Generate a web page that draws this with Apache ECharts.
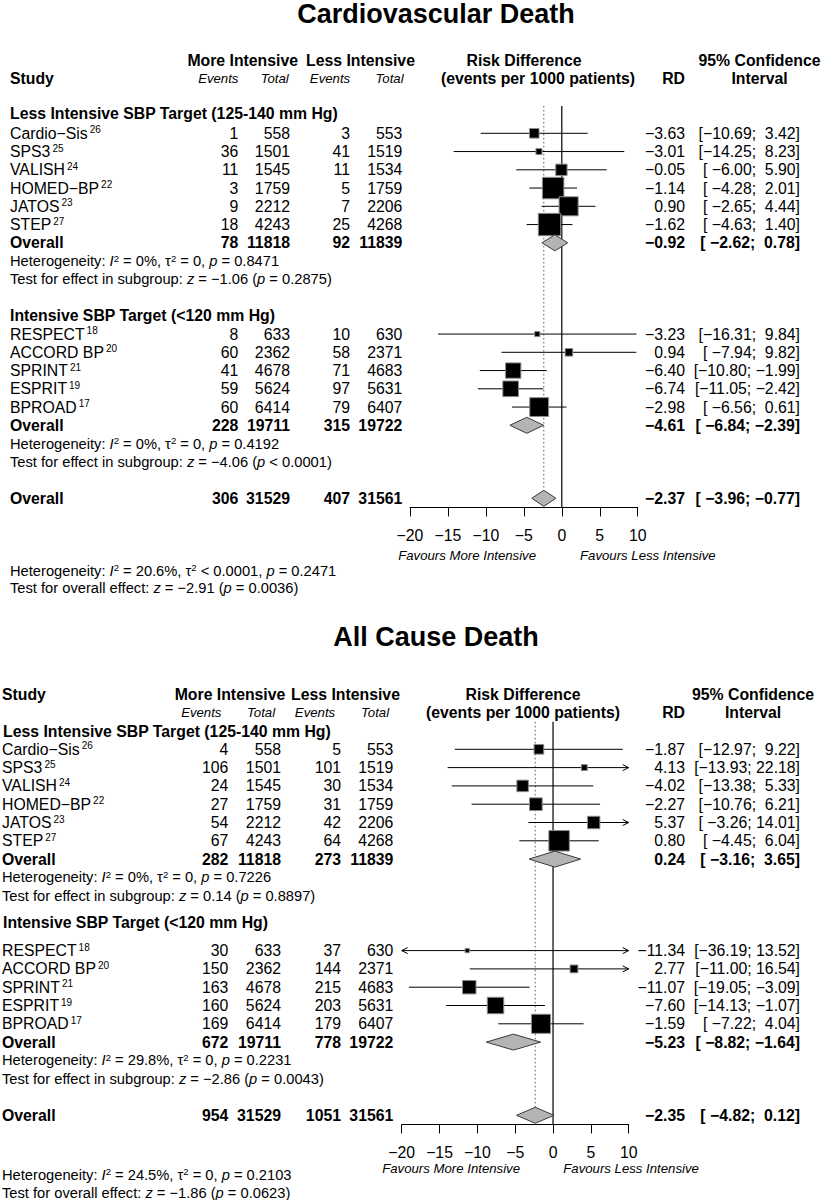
<!DOCTYPE html>
<html>
<head>
<meta charset="utf-8">
<script src="https://cdn.jsdelivr.net/npm/echarts@6/dist/echarts.min.js"></script>
<style>html,body{margin:0;padding:0;background:#fff}#chart{width:823px;height:1200px}</style>
</head>
<body>
<div id="chart"></div>
<script>
// ---------------- DATA ----------------
const studyNames = ["Cardio\u2212Sis", "SPS3", "VALISH", "HOMED\u2212BP", "JATOS", "STEP",
                    "RESPECT", "ACCORD BP", "SPRINT", "ESPRIT", "BPROAD"];
const studyRefs = ["26", "25", "24", "22", "23", "27", "18", "20", "21", "19", "17"];
const studyGroup = [0, 0, 0, 0, 0, 0, 1, 1, 1, 1, 1];
const groupTitles = ["Less Intensive SBP Target (125-140 mm Hg)", "Intensive SBP Target (<120 mm Hg)"];
const totalMore = [558, 1501, 1545, 1759, 2212, 4243, 633, 2362, 4678, 5624, 6414];
const totalLess = [553, 1519, 1534, 1759, 2206, 4268, 630, 2371, 4683, 5631, 6407];
const xTicks = [-20, -15, -10, -5, 0, 5, 10];

// Cardiovascular death
const cvEventsMore = [1, 36, 11, 3, 9, 18, 8, 60, 41, 59, 60];
const cvEventsLess = [3, 41, 11, 5, 7, 25, 10, 58, 71, 97, 79];
const cvRD    = [-3.63, -3.01, -0.05, -1.14, 0.90, -1.62, -3.23, 0.94, -6.40, -6.74, -2.98];
const cvLower = [-10.69, -14.25, -6.00, -4.28, -2.65, -4.63, -16.31, -7.94, -10.80, -11.05, -6.56];
const cvUpper = [3.42, 8.23, 5.90, 2.01, 4.44, 1.40, 9.84, 9.82, -1.99, -2.42, 0.61];
const cvSubEventsMore = [78, 228];
const cvSubTotalMore = [11818, 19711];
const cvSubEventsLess = [92, 315];
const cvSubTotalLess = [11839, 19722];
const cvSubRD = [-0.92, -4.61];
const cvSubLower = [-2.62, -6.84];
const cvSubUpper = [0.78, -2.39];
const cvSubHet = [["0%", "= 0", "0.8471"], ["0%", "= 0", "0.4192"]];
const cvSubTest = [["\u22121.06", "= 0.2875"], ["\u22124.06", "< 0.0001"]];
const cvAllCounts = [306, 31529, 407, 31561];
const cvAllEffect = [-2.37, -3.96, -0.77];
const cvAllHet = ["20.6%", "< 0.0001", "0.2471"];
const cvAllTest = ["\u22122.91", "= 0.0036"];

// All cause death
const acEventsMore = [4, 106, 24, 27, 54, 67, 30, 150, 163, 160, 169];
const acEventsLess = [5, 101, 30, 31, 42, 64, 37, 144, 215, 203, 179];
const acRD    = [-1.87, 4.13, -4.02, -2.27, 5.37, 0.80, -11.34, 2.77, -11.07, -7.60, -1.59];
const acLower = [-12.97, -13.93, -13.38, -10.76, -3.26, -4.45, -36.19, -11.00, -19.05, -14.13, -7.22];
const acUpper = [9.22, 22.18, 5.33, 6.21, 14.01, 6.04, 13.52, 16.54, -3.09, -1.07, 4.04];
const acSubEventsMore = [282, 672];
const acSubTotalMore = [11818, 19711];
const acSubEventsLess = [273, 778];
const acSubTotalLess = [11839, 19722];
const acSubRD = [0.24, -5.23];
const acSubLower = [-3.16, -8.82];
const acSubUpper = [3.65, -1.64];
const acSubHet = [["0%", "= 0", "0.7226"], ["29.8%", "= 0", "0.2231"]];
const acSubTest = [["0.14", "= 0.8897"], ["\u22122.86", "= 0.0043"]];
const acAllCounts = [954, 31529, 1051, 31561];
const acAllEffect = [-2.35, -4.82, 0.12];
const acAllHet = ["24.5%", "= 0", "0.2103"];
const acAllTest = ["\u22121.86", "= 0.0623"];

// ---------------- LAYOUT / HELPERS ----------------
const FONT = '"Liberation Sans", Arial, Helvetica, sans-serif';
const MINUS = "\u2212";
const NB = "\u00A0";
const FS = 15.8;   // main text size
const FSS = 14.7;  // small text size
const nb = s => String(s).replace(/ /g, NB);
const fmt = v => (v < 0 ? MINUS : "") + Math.abs(v).toFixed(2);
const padL = (s, n) => NB.repeat(Math.max(0, n - s.length)) + s;

const richBase = {
  n: { fontSize: FS, fontFamily: FONT, fill: "#000", lineHeight: 17 },
  s: { fontSize: 10, fontFamily: FONT, fill: "#000", verticalAlign: "top", lineHeight: 10, padding: [0, 0, 0, 2] },
  h: { fontSize: FSS, fontFamily: FONT, fill: "#000", lineHeight: 16 },
  hi: { fontSize: FSS, fontFamily: FONT, fontStyle: "italic", fill: "#000", lineHeight: 16 },
  hs: { fontSize: 9.5, fontFamily: FONT, fill: "#000", verticalAlign: "top", lineHeight: 9 }
};

const layouts = [
  { title: "Cardiovascular Death", titleX: 436, titleY: 14,
    gridLeft: 410, gridWidth: 227.7, rowY0: 133.3, rowH: 18.25,
    nameX: 10, cols: [238.3, 290, 350, 402.3], rdX: 685, ciX: 800,
    hdrA: -4, hdrB: -3, studyRow: -3, moreX: 242.7, lessX: 360.5, evRow: -3, evX: [218.3, 274.7, 330, 389.5],
    riskX1: 524, riskX2: 538, ciHdrX: 759.5,
    groupRows: [-1.1, 10], groupX: 10, hetRows: [23.98, 24.9], boxK: 135,
    favY: 555, favL: 536, favR: 580,
    ev: [cvEventsMore, cvEventsLess], eff: [cvRD, cvLower, cvUpper],
    sub: [cvSubEventsMore, cvSubTotalMore, cvSubEventsLess, cvSubTotalLess], subEff: [cvSubRD, cvSubLower, cvSubUpper],
    subHet: cvSubHet, subTest: cvSubTest, all: cvAllCounts, allEff: cvAllEffect, allHet: cvAllHet, allTest: cvAllTest },
  { title: "All Cause Death", titleX: 436, titleY: 637,
    gridLeft: 401.7, gridWidth: 227, rowY0: 749.3, rowH: 18.3,
    nameX: 2, cols: [228.3, 281, 341, 393.3], rdX: 685, ciX: 800,
    hdrA: -3, hdrB: -2, studyRow: -3, moreX: 230, lessX: 345.5, evRow: -2, evX: [201.3, 261, 315, 375],
    riskX1: 523, riskX2: 523, ciHdrX: 753,
    groupRows: [-1, 9.45], groupX: 3, hetRows: [23.26, 24.23], boxK: 215,
    favY: 1168, favL: 520, favR: 563.3,
    ev: [acEventsMore, acEventsLess], eff: [acRD, acLower, acUpper],
    sub: [acSubEventsMore, acSubTotalMore, acSubEventsLess, acSubTotalLess], subEff: [acSubRD, acSubLower, acSubUpper],
    subHet: acSubHet, subTest: acSubTest, all: acAllCounts, allEff: acAllEffect, allHet: acAllHet, allTest: acAllTest }
];

const groupStart = [0, 11];
const studyRows = studyGroup.map((g, i) => {
  const first = studyGroup.indexOf(g);
  return groupStart[g] + (i - first);
});
const subRows = [6, 16], hetRowsIn = [7, 17], testRowsIn = [8, 18], overallRow = 20;
const X_MIN = xTicks[0], X_MAX = xTicks[xTicks.length - 1];

function hetText(h) {
  return `{h|${nb("Heterogeneity: ")}}{hi|I}{hs|2}{h|${nb(" = " + h[0] + ", \u03C4")}}{hs|2}{h|${nb(" " + h[1] + ", ")}}{hi|p}{h|${nb(" = " + h[2])}}`;
}
function testText(label, t) {
  return `{h|${nb(label + " ")}}{hi|z}{h|${nb(" = " + t[0] + " (")}}{hi|p}{h|${nb(" " + t[1] + ")")}}`;
}

function buildTexts(L) {
  const items = [];
  const add = (x, row, text, o) => items.push(Object.assign({ x, row, text, align: "left", size: FS, weight: "normal", style: "normal" }, o || {}));
  // headers
  add(L.nameX, L.studyRow, "Study", { weight: "bold" });
  add(L.moreX, L.hdrA, "More Intensive", { align: "center", weight: "bold" });
  add(L.lessX, L.hdrA, "Less Intensive", { align: "center", weight: "bold" });
  ["Events", "Total", "Events", "Total"].forEach((t, k) => add(L.evX[k], L.evRow, t, { align: "center", size: 13.2, style: "italic" }));
  add(L.riskX1, L.hdrA, "Risk Difference", { align: "center", weight: "bold" });
  add(L.riskX2, L.hdrB, "(events per 1000 patients)", { align: "center", weight: "bold" });
  add(L.rdX, L.hdrB, "RD", { align: "right", weight: "bold" });
  add(L.ciHdrX, L.hdrA, "95% Confidence", { align: "center", weight: "bold" });
  add(L.ciHdrX, L.hdrB, "Interval", { align: "center", weight: "bold" });

  // CI string padding
  const allLo = L.eff[1].concat(L.subEff[1], [L.allEff[1]]).map(fmt);
  const allHi = L.eff[2].concat(L.subEff[2], [L.allEff[2]]).map(fmt);
  const loLen = Math.max(...allLo.map(s => s.length));
  const hiLen = Math.max(...allHi.map(s => s.length));
  const ci = (lo, hi) => "[" + padL(fmt(lo), loLen) + ";" + NB + padL(fmt(hi), hiLen) + "]";

  const row = (r, cells, bold) => {
    const w = bold ? "bold" : "normal";
    cells.forEach((c, k) => add(L.cols[k], r, String(c), { align: "right", weight: w }));
  };

  // groups
  [0, 1].forEach(g => {
    add(L.groupX, L.groupRows[g], groupTitles[g], { weight: "bold" });
    studyNames.forEach((name, i) => {
      if (studyGroup[i] !== g) return;
      const r = studyRows[i];
      add(L.nameX, r, `{n|${nb(name)}}{s|${studyRefs[i]}}`, { rich: richBase });
      row(r, [L.ev[0][i], totalMore[i], L.ev[1][i], totalLess[i]], false);
      add(L.rdX, r, fmt(L.eff[0][i]), { align: "right" });
      add(L.ciX, r, ci(L.eff[1][i], L.eff[2][i]), { align: "right" });
    });
    add(L.nameX, subRows[g], "Overall", { weight: "bold" });
    row(subRows[g], [L.sub[0][g], L.sub[1][g], L.sub[2][g], L.sub[3][g]], true);
    add(L.rdX, subRows[g], fmt(L.subEff[0][g]), { align: "right", weight: "bold" });
    add(L.ciX, subRows[g], ci(L.subEff[1][g], L.subEff[2][g]), { align: "right", weight: "bold" });
    add(L.nameX, hetRowsIn[g], hetText(L.subHet[g]), { rich: richBase, size: FSS });
    add(L.nameX, testRowsIn[g], testText("Test for effect in subgroup:", L.subTest[g]), { rich: richBase, size: FSS });
  });
  // overall
  add(L.nameX, overallRow, "Overall", { weight: "bold" });
  row(overallRow, L.all, true);
  add(L.rdX, overallRow, fmt(L.allEff[0]), { align: "right", weight: "bold" });
  add(L.ciX, overallRow, ci(L.allEff[1], L.allEff[2]), { align: "right", weight: "bold" });
  add(L.nameX, L.hetRows[0], hetText(L.allHet), { rich: richBase, size: FSS });
  add(L.nameX, L.hetRows[1], testText("Test for overall effect:", L.allTest), { rich: richBase, size: FSS });
  return items;
}

// ---------------- SERIES ----------------
function arrowHead(p, dir) {
  return { type: "polyline", shape: { points: [[p[0] - dir * 6, p[1] - 3], [p[0], p[1]], [p[0] - dir * 6, p[1] + 3]] },
           style: { stroke: "#000", fill: null, lineWidth: 1 } };
}

const series = [];
const grids = [], xAxes = [], yAxes = [], graphics = [];

layouts.forEach((L, gi) => {
  grids.push({ left: L.gridLeft, width: L.gridWidth, top: L.rowY0 - 1.5 * L.rowH, height: 22 * L.rowH, containLabel: false });
  xAxes.push({
    type: "value", gridIndex: gi, min: X_MIN, max: X_MAX, interval: xTicks[1] - xTicks[0],
    axisLine: { show: true, onZero: false, lineStyle: { color: "#000", width: 1 } },
    axisTick: { show: true, length: 9, lineStyle: { color: "#000", width: 1 } },
    axisLabel: { color: "#000", fontSize: FS, fontFamily: FONT, margin: 20,
                 formatter: v => (v < 0 ? MINUS + Math.abs(v) : String(v)) },
    splitLine: { show: false }
  });
  yAxes.push({ type: "value", gridIndex: gi, inverse: true, min: -1.5, max: 20.5, show: false });

  // reference lines: null effect (solid) and overall effect (dotted)
  const refData = [[0, -1.5, 20.5], [L.allEff[0], -1.5, overallRow]];
  series.push({
    type: "custom", xAxisIndex: gi, yAxisIndex: gi, clip: false, silent: true, z: 1,
    data: refData,
    renderItem: (params, api) => {
      const a = api.coord([api.value(0), api.value(1)]);
      const b = api.coord([api.value(0), api.value(2)]);
      const dotted = params.dataIndex === 1;
      return { type: "line", shape: { x1: a[0], y1: a[1], x2: b[0], y2: b[1] },
               style: dotted ? { stroke: "#555", lineWidth: 1, lineDash: [1.5, 2.5] } : { stroke: "#000", lineWidth: 1.2 } };
    }
  });

  // studies: CI lines + squares
  series.push({
    type: "custom", xAxisIndex: gi, yAxisIndex: gi, clip: false, silent: true, z: 3,
    data: studyNames.map((_, i) => [L.eff[0][i], studyRows[i], L.eff[1][i], L.eff[2][i]]),
    renderItem: (params, api) => {
      const rd = api.value(0), r = api.value(1), lo = api.value(2), hi = api.value(3);
      const p1 = api.coord([Math.max(lo, X_MIN), r]);
      const p2 = api.coord([Math.min(hi, X_MAX), r]);
      const pc = api.coord([rd, r]);
      const ch = [{ type: "line", shape: { x1: p1[0], y1: p1[1], x2: p2[0], y2: p2[1] }, style: { stroke: "#000", lineWidth: 1 } }];
      if (hi > X_MAX) ch.push(arrowHead(p2, 1));
      if (lo < X_MIN) ch.push(arrowHead(p1, -1));
      const s = L.boxK / (hi - lo);
      ch.push({ type: "rect", shape: { x: pc[0] - s / 2, y: pc[1] - s / 2, width: s, height: s },
                style: { fill: "#000", stroke: "#8c8c8c", lineWidth: 1 } });
      return { type: "group", children: ch };
    }
  });

  // diamonds: subgroups + overall
  const dData = [0, 1].map(g => [L.subEff[0][g], subRows[g], L.subEff[1][g], L.subEff[2][g]])
    .concat([[L.allEff[0], overallRow, L.allEff[1], L.allEff[2]]]);
  series.push({
    type: "custom", xAxisIndex: gi, yAxisIndex: gi, clip: false, silent: true, z: 4,
    data: dData,
    renderItem: (params, api) => {
      const rd = api.value(0), r = api.value(1);
      const a = api.coord([api.value(2), r]), b = api.coord([rd, r]), c = api.coord([api.value(3), r]);
      const h = 8;
      return { type: "polygon", shape: { points: [[a[0], a[1]], [b[0], b[1] - h], [c[0], c[1]], [b[0], b[1] + h]] },
               style: { fill: "#b4b4b4", stroke: "#3a3a3a", lineWidth: 1 } };
    }
  });

  // table text
  const items = buildTexts(L);
  series.push({
    type: "custom", xAxisIndex: gi, yAxisIndex: gi, clip: false, silent: true, z: 10,
    data: items.map(it => [0, it.row]),
    renderItem: (params, api) => {
      const it = items[params.dataIndex];
      const y = api.coord([0, api.value(1)])[1];
      const st = { text: it.text, fontSize: it.size, fontFamily: FONT, fontWeight: it.weight, fontStyle: it.style,
                   fill: "#000", align: it.align, verticalAlign: "middle" };
      if (it.rich) st.rich = it.rich;
      return { type: "text", x: it.x, y: y, style: st };
    }
  });

  // titles and favour labels
  graphics.push({ type: "text", x: L.titleX, y: L.titleY, silent: true,
    style: { text: L.title, fontSize: 27, fontWeight: "bold", fontFamily: FONT, fill: "#000", align: "center", verticalAlign: "middle" } });
  graphics.push({ type: "text", x: L.favL, y: L.favY, silent: true,
    style: { text: "Favours More Intensive", fontSize: 13.2, fontStyle: "italic", fontFamily: FONT, fill: "#000", align: "right", verticalAlign: "middle" } });
  graphics.push({ type: "text", x: L.favR, y: L.favY, silent: true,
    style: { text: "Favours Less Intensive", fontSize: 13.2, fontStyle: "italic", fontFamily: FONT, fill: "#000", align: "left", verticalAlign: "middle" } });
});

const chart = echarts.init(document.getElementById("chart"), null, { renderer: "svg", width: 823, height: 1200 });
chart.setOption({
  animation: false,
  backgroundColor: "#fff",
  grid: grids,
  xAxis: xAxes,
  yAxis: yAxes,
  series: series,
  graphic: graphics
});
</script>
</body>
</html>
